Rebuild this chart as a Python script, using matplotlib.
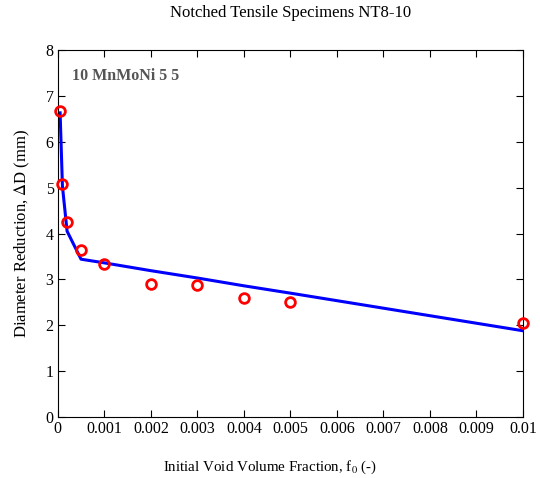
import matplotlib
matplotlib.use('agg')
import matplotlib.pyplot as plt
import numpy as np

plt.rcParams['font.family'] = ['Liberation Serif', 'DejaVu Serif']
plt.rcParams['mathtext.fontset'] = 'stix'

# measured points
f0_exp = [0.00005, 0.0001, 0.0002, 0.0005, 0.001, 0.002, 0.003, 0.004, 0.005, 0.01]
dD_exp = [6.68, 5.08, 4.25, 3.64, 3.33, 2.90, 2.88, 2.59, 2.51, 2.05]

# simulation curve
f0_sim = [0.00005, 0.0001, 0.0002, 0.0005, 0.001, 0.002, 0.003, 0.004, 0.005, 0.01]
dD_sim = [6.63, 5.03, 4.05, 3.44, 3.36, 3.19, 3.03, 2.86, 2.70, 1.88]

fig = plt.figure(figsize=(5.4, 4.78), dpi=100)
ax = fig.add_axes([0.107, 0.1276, 0.8615, 0.7678])

ax.plot(f0_sim, dD_sim, color='#0000ff', lw=2.2, zorder=2)
ax.plot(f0_exp, dD_exp, 'o', mfc='none', mec='#ff0000', mew=2, ms=7, zorder=3, clip_on=False)

ax.set_xlim(0, 0.01)
ax.set_ylim(0, 8)
ax.set_xticks(np.arange(0, 0.0101, 0.001))
ax.set_xticklabels(['0', '0.001', '0.002', '0.003', '0.004', '0.005', '0.006', '0.007', '0.008', '0.009', '0.01'])
ax.set_yticks(range(0, 9))
ax.tick_params(direction='in', top=True, right=True, labelsize=11.5, length=5, pad=3)

ax.set_title('Notched Tensile Specimens NT8-10', fontsize=12, pad=24)
ax.set_ylabel('Diameter Reduction, $\\Delta$D (mm)', fontsize=12, labelpad=10)
ax.set_xlabel('Initial Void Volume Fraction, f$_0$ (-)', fontsize=10.8, va='center')
ax.xaxis.set_label_coords(0.456, -0.136)
ax.text(0.03, 0.95, '10 MnMoNi 5 5', transform=ax.transAxes, fontsize=11.5,
        fontweight='bold', color='#555555', va='top')

fig.savefig('out.png', dpi=100)
